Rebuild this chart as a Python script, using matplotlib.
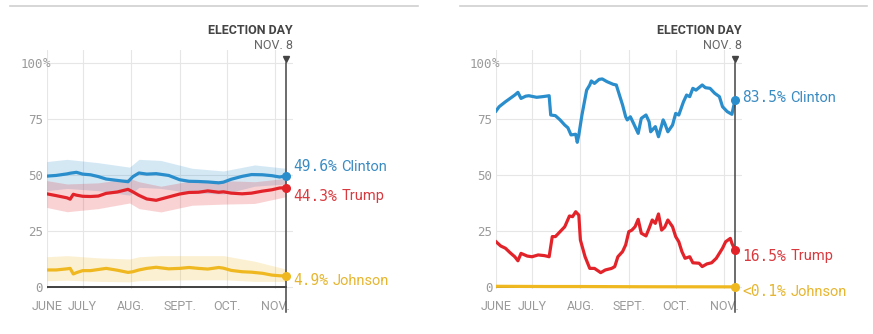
import matplotlib
matplotlib.use("Agg")
import matplotlib.pyplot as plt
from matplotlib.lines import Line2D
from matplotlib.transforms import blended_transform_factory

# days counted from June 1 (June 8 = 7, Nov. 8 = 160)
month_days = [7, 30, 61, 92, 122, 153]
month_labels = ["JUNE", "JULY", "AUG.", "SEPT.", "OCT.", "NOV."]
election_day = 160

names = ["Clinton", "Trump", "Johnson"]

# popular vote share
vote_days = [7, 13, 20, 22, 24, 26, 30, 35, 40, 45, 52, 59, 62, 66, 71, 77,
             85, 92, 98, 104, 110, 117, 120, 125, 132, 138, 145, 151, 156, 160]
vote_clinton = [49.5, 49.8, 50.5, 50.8, 51.0, 51.2, 50.4, 50.1, 49.3, 48.2,
                47.6, 47.0, 49.2, 50.9, 50.4, 50.6, 49.8, 47.9, 47.2, 47.1,
                46.9, 46.5, 46.8, 48.1, 49.4, 50.2, 50.1, 49.7, 49.1, 49.6]
vote_trump = [41.6, 40.8, 39.8, 39.2, 41.4, 41.0, 40.5, 40.4, 40.6, 41.8,
              42.4, 43.6, 42.5, 40.9, 39.3, 38.7, 40.2, 41.5, 42.2, 42.3,
              42.9, 42.3, 42.5, 41.9, 41.6, 41.9, 42.8, 43.4, 44.2, 44.3]
vote_johnson = [7.6, 7.6, 8.1, 8.3, 5.8, 6.4, 7.3, 7.3, 7.8, 8.3,
                7.5, 6.5, 6.8, 7.6, 8.3, 8.8, 8.1, 8.3, 8.7, 8.3,
                8.0, 8.7, 8.4, 7.4, 6.8, 6.6, 6.1, 5.3, 5.0, 4.9]

# uncertainty bands around the vote share
band_days = [7, 20, 40, 60, 66, 80, 100, 120, 140, 160]
clinton_hi = [56.0, 57.0, 55.5, 53.5, 57.0, 56.5, 53.0, 51.8, 54.5, 53.0]
clinton_lo = [43.0, 44.0, 43.0, 41.0, 44.5, 44.0, 42.0, 41.5, 45.0, 46.0]
trump_hi = [47.5, 46.0, 46.5, 48.5, 47.0, 45.0, 47.5, 47.5, 47.0, 48.5]
trump_lo = [35.5, 33.6, 35.0, 37.5, 35.0, 33.5, 36.5, 37.0, 37.3, 40.3]
johnson_hi = [13.5, 14.0, 13.0, 12.5, 13.5, 14.0, 14.0, 14.0, 11.5, 8.0]
johnson_lo = [2.8, 3.0, 2.5, 2.3, 2.8, 3.0, 3.2, 3.2, 2.5, 2.5]

# chance of winning
win_clinton_days = [7, 9, 11, 13, 16, 19, 21, 23, 26, 28, 33, 37, 41, 42, 45,
                    48, 51, 53, 55, 58, 59, 60, 62, 65, 67, 68, 70, 73, 75, 78,
                    82, 84, 86, 88, 90, 91, 93, 95, 98, 100, 103, 105, 106, 109,
                    111, 114, 115, 117, 120, 122, 124, 127, 129, 131, 133, 135,
                    139, 141, 144, 147, 150, 152, 155, 158, 160]
win_clinton = [78.6, 80.5, 81.6, 82.7, 84.2, 85.7, 86.9, 84.2, 85.2, 85.4,
               84.7, 85.0, 85.4, 76.8, 76.5, 74.6, 72.3, 71.1, 67.9, 68.2,
               64.6, 67.9, 76.8, 87.9, 90.2, 92.0, 90.9, 92.7, 92.9, 91.7,
               90.5, 90.2, 85.7, 81.3, 76.0, 74.6, 76.0, 73.1, 68.6, 75.3,
               76.8, 73.8, 69.3, 71.6, 67.1, 74.6, 73.1, 69.3, 72.3, 77.5,
               76.8, 82.7, 85.7, 85.0, 88.7, 87.9, 90.2, 89.0, 88.7, 86.5,
               85.0, 80.5, 78.3, 77.1, 83.5]
win_trump_days = [7, 10, 13, 16, 19, 21, 23, 27, 30, 34, 38, 41, 43, 45, 48,
                  51, 54, 56, 58, 60, 61, 64, 67, 70, 74, 77, 81, 83, 85, 88,
                  90, 92, 94, 96, 98, 100, 103, 105, 107, 109, 111, 113, 115,
                  117, 120, 122, 124, 126, 128, 131, 133, 137, 139, 142, 145,
                  148, 152, 154, 157, 158, 160]
win_trump = [20.2, 18.3, 17.3, 15.3, 13.5, 11.7, 15.0, 13.8, 13.5, 14.3,
             14.0, 13.5, 22.5, 22.5, 24.7, 26.9, 31.7, 31.4, 33.6, 32.1,
             21.0, 13.5, 8.3, 8.3, 6.4, 7.6, 8.3, 9.1, 13.5, 15.8,
             18.8, 24.7, 25.4, 26.9, 30.2, 24.0, 22.8, 26.2, 29.9, 28.4,
             32.6, 25.4, 26.7, 29.9, 26.9, 22.5, 20.2, 15.8, 12.8, 13.5,
             10.8, 10.6, 9.1, 10.3, 10.8, 12.8, 17.3, 20.2, 21.7, 19.5, 16.5]
win_johnson_days = [7, 40, 60, 100, 160]
win_johnson = [0.3, 0.2, 0.2, 0.1, 0.05]

line_colors = ["#2a8dcc", "#e3232a", "#efb821"]
text_colors = ["#3a8bc2", "#d93a3f", "#e6b631"]
GRID = "#e6e6e6"
GRAY = "#9a9a9a"

plt.rcParams["font.family"] = ["Roboto", "DejaVu Sans"]

fig = plt.figure(figsize=(8.73, 3.34), dpi=100)
ax_vote = fig.add_axes([0.0535, 0.1341, 0.2821, 0.7174])
ax_win = fig.add_axes([0.5682, 0.1341, 0.2818, 0.7174])


def end_label(ax, value, y, color):
    txt = "<0.1%" if value < 0.1 else f"{value:.1f}%"
    num = ax.annotate(txt, xy=(election_day, y), xytext=(5, 0),
                      textcoords="offset points", ha="left", va="center",
                      color=color, fontsize=10.5,
                      family="DejaVu Sans Mono", annotation_clip=False)
    return num


def setup(ax):
    ax.set_xlim(7, 164.5)
    ax.set_ylim(-1, 106)
    for s in ax.spines.values():
        s.set_visible(False)
    ax.set_xticks(month_days, month_labels)
    ax.set_yticks([0, 25, 50, 75, 100], ["0", "25", "50", "75", "100"])
    ax.tick_params(length=0)
    ax.tick_params(axis="x", pad=8, labelsize=9, labelcolor=GRAY)
    ax.tick_params(axis="y", pad=2.7, labelsize=9, labelcolor=GRAY)
    for lab in ax.get_yticklabels():
        lab.set_family("DejaVu Sans Mono")
    ax.grid(True, color=GRID, lw=0.8)
    ax.set_axisbelow(True)
    trans = blended_transform_factory(ax.transAxes, ax.transData)
    ax.text(-0.016, 100, "%", transform=trans, ha="left", va="center",
            color=GRAY, fontsize=9, family="DejaVu Sans Mono")

    # baseline and election day marker
    ax.plot([7, election_day], [0, 0], color="#333333", lw=1.3, zorder=2)
    ax.plot([election_day, election_day], [-11, 100], color="#444444",
            lw=1.1, clip_on=False, zorder=5)
    ax.plot(election_day, 102, marker="v", ms=5, color="#444444",
            clip_on=False)
    ax.text(164.5, 114.7, "ELECTION DAY", ha="right", va="center",
            fontsize=9, fontweight="bold", color="#444444")
    ax.text(164.5, 108, "NOV. 8", ha="right", va="center",
            fontsize=9, color="#666666")


def draw_panel(ax, series, label_y):
    setup(ax)
    for (days, vals), name, lc, tc, ly in zip(series, names, line_colors,
                                               text_colors, label_y):
        ax.plot(days, vals, color=lc, lw=2.3, solid_joinstyle="round",
                zorder=3)
        ax.plot(days[-1], vals[-1], "o", color=lc, ms=5.5, zorder=6,
                clip_on=False)
        num = end_label(ax, vals[-1], ly, tc)
        ax.annotate(name, xy=(1, 0.5), xycoords=num, xytext=(3.5, 0),
                    textcoords="offset points", ha="left", va="center",
                    color=tc, fontsize=10.5, annotation_clip=False)


# vote share with shaded ranges
bands = [(clinton_lo, clinton_hi), (trump_lo, trump_hi),
         (johnson_lo, johnson_hi)]
for (lo, hi), c in zip(bands, line_colors):
    ax_vote.fill_between(band_days, lo, hi, color=c, alpha=0.2, lw=0,
                         zorder=1)
draw_panel(ax_vote,
           [(vote_days, vote_clinton), (vote_days, vote_trump),
            (vote_days, vote_johnson)],
           [53.6, 40.6, 2.7])

draw_panel(ax_win,
           [(win_clinton_days, win_clinton), (win_trump_days, win_trump),
            (win_johnson_days, win_johnson)],
           [84.5, 13.8, -2.2])

# thin rules across the top of each panel
for x0, x1 in [(10, 418), (460, 867)]:
    fig.add_artist(Line2D([x0 / 873, x1 / 873], [1 - 6 / 334, 1 - 6 / 334],
                          color="#d0d0d0", lw=1.2))

fig.savefig("out.png", dpi=100)
